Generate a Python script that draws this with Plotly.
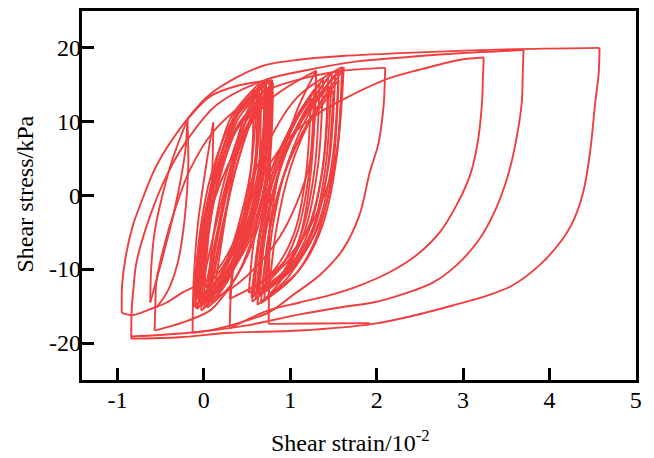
import plotly.graph_objects as go

# ---------------- data (strain in 10^-2, stress in kPa) ----------------
# large envelope loops
load_a_x = [-0.95, -0.945, -0.90, -0.82, -0.74, -0.55, -0.28, 0.05, 0.38, 0.72, 1.10, 1.60, 2.50, 3.50, 4.58]
load_a_y = [-15.9, -12.0, -8.0, -4.0, -1.4, 4.0, 9.0, 13.5, 16.0, 17.7, 18.4, 18.9, 19.4, 19.8, 20.0]
unload_r4_x = [4.58, 4.57, 4.53, 4.47, 4.39, 4.27, 4.12, 3.88, 3.57, 3.27, 2.88, 2.42, 1.96, 1.11, 0.30, -0.28, -0.84]
unload_r4_y = [20.0, 16.5, 12.6, 5.8, 0.4, -3.6, -6.4, -9.5, -12.2, -13.6, -14.9, -16.3, -17.4, -18.3, -18.6, -19.2, -19.4]
load_b_x = [-0.84, -0.835, -0.81, -0.78, -0.62, -0.43, -0.20, 0.15, 0.72, 1.20, 1.80, 2.40, 3.00, 3.70]
load_b_y = [-19.4, -15.5, -12.0, -9.1, -2.7, 2.7, 7.4, 12.3, 15.7, 17.0, 18.2, 18.8, 19.3, 19.7]
unload_r3_x = [3.70, 3.69, 3.68, 3.61, 3.52, 3.38, 3.19, 2.92, 2.65, 2.27, 1.96, 1.61, 1.11, 0.50, 0.00, -0.50, -0.84]
unload_r3_y = [19.7, 16.0, 12.6, 7.2, 2.7, -1.8, -5.9, -9.5, -11.8, -13.5, -14.5, -15.1, -16.1, -17.6, -18.4, -18.9, -19.1]
load_r2_x = [0.30, 0.31, 0.34, 0.45, 0.70, 1.00, 1.35, 1.61, 2.10, 2.48, 2.97, 3.24]
load_r2_y = [-18.0, -14.0, -10.0, -3.5, 3.0, 8.0, 11.3, 13.0, 15.7, 17.0, 18.4, 18.7]
unload_r2_x = [3.24, 3.23, 3.22, 3.17, 3.08, 2.92, 2.73, 2.46, 2.15, 1.80, 1.46, 1.11, 0.74, 0.30]
unload_r2_y = [18.7, 16.0, 12.6, 7.2, 2.7, -1.4, -5.0, -8.1, -10.4, -12.2, -13.5, -14.5, -15.6, -18.0]
load_r1_x = [-0.57, -0.56, -0.55, -0.47, -0.32, -0.16, 0.10, 0.45, 0.80, 1.20, 1.60, 2.10]
load_r1_y = [-18.3, -14.5, -11.8, -7.3, -1.4, 3.5, 8.5, 12.3, 14.6, 16.0, 16.9, 17.3]
unload_r1_x = [2.10, 2.09, 2.08, 2.02, 1.92, 1.80, 1.61, 1.34, 1.03, 0.76, 0.40, 0.10, -0.13]
unload_r1_y = [17.3, 14.0, 12.0, 7.0, 3.1, -2.7, -7.3, -10.8, -13.5, -15.8, -17.3, -18.2, -18.6]

# medium loops on the left side
load_m2_x = [-0.13, -0.125, -0.11, -0.07, 0.00, 0.06, 0.11]
load_m2_y = [-18.6, -14.0, -10.0, -4.0, 2.0, 6.5, 9.9]
unload_m2_x = [0.11, 0.10, 0.07, 0.00, -0.05, -0.24, -0.43, -0.62, -0.82, -0.95]
unload_m2_y = [9.9, 4.0, -3.0, -8.5, -11.8, -13.1, -14.5, -15.4, -16.2, -15.9]
load_m1_x = [-0.62, -0.61, -0.57, -0.48, -0.36, -0.19]
load_m1_y = [-14.5, -10.0, -5.0, 0.0, 5.0, 10.3]
unload_m1_x = [-0.19, -0.21, -0.27, -0.36, -0.48, -0.62]
unload_m1_y = [10.3, 6.5, 2.0, -3.0, -8.5, -14.5]
reload_m1_x = [-0.19, 0.07, 0.40, 0.77]
reload_m1_y = [10.3, 13.4, 14.9, 15.6]
unload_m3_x = [-0.19, -0.18, -0.22, -0.30, -0.42, -0.55]
unload_m3_y = [10.3, 4.0, -3.0, -9.0, -13.0, -15.2]
unload_a_x = [0.78, 0.77, 0.71, 0.58, 0.40, 0.20, 0.07, -0.24, -0.57]
unload_a_y = [15.6, 9.0, 2.0, -5.0, -10.5, -14.0, -15.6, -17.2, -18.3]
drop_x = [0.77, 0.765, 0.75]
drop_y = [15.6, 0.0, -17.4]
base_x = [0.75, 1.30, 1.92]
base_y = [-17.4, -17.35, -17.3]

# dense cycles, cluster A: loading branch and unloading branch per cycle
clu_a_load_x = [
    [-0.10, -0.03, 0.14, 0.43, 0.79], [-0.06, 0.00, 0.15, 0.41, 0.72], [0.00, 0.15, 0.31, 0.52, 0.74],
    [-0.10, -0.04, 0.09, 0.33, 0.62], [0.05, 0.20, 0.37, 0.58, 0.80], [-0.03, 0.03, 0.16, 0.38, 0.66],
    [0.08, 0.22, 0.37, 0.56, 0.76], [-0.06, -0.01, 0.11, 0.32, 0.58], [0.02, 0.16, 0.31, 0.51, 0.72],
    [-0.12, -0.05, 0.13, 0.43, 0.80], [0.10, 0.22, 0.34, 0.51, 0.68], [-0.02, 0.03, 0.16, 0.38, 0.64],
    [0.04, 0.10, 0.24, 0.48, 0.78], [-0.08, -0.01, 0.15, 0.42, 0.76], [0.06, 0.17, 0.30, 0.45, 0.62],
    [-0.04, 0.02, 0.16, 0.40, 0.70], [-0.08, 0.10, 0.29, 0.54, 0.80], [0.00, 0.06, 0.19, 0.42, 0.70],
    [0.03, 0.16, 0.29, 0.47, 0.66], [-0.05, 0.01, 0.16, 0.42, 0.74]]
clu_a_load_y = [
    [-14.8, -5.3, 3.5, 11.7, 15.7], [-13.8, -4.9, 3.5, 11.3, 15.0], [-15.3, -6.2, 2.4, 9.8, 14.2],
    [-12.8, -4.6, 3.0, 10.1, 13.5], [-14.0, -4.9, 3.6, 10.9, 15.3], [-15.6, -6.9, 1.3, 8.9, 12.6],
    [-13.2, -4.5, 3.6, 10.6, 14.8], [-14.3, -5.4, 2.9, 10.7, 14.4], [-12.5, -4.6, 2.8, 9.2, 13.0],
    [-15.0, -6.0, 2.4, 10.2, 14.0], [-14.5, -5.2, 3.4, 10.9, 15.4], [-13.5, -4.6, 3.7, 11.5, 15.2],
    [-15.2, -6.3, 2.1, 9.9, 13.6], [-14.0, -4.8, 3.8, 11.8, 15.7], [-13.0, -4.6, 3.2, 10.0, 14.0],
    [-15.0, -6.3, 1.9, 9.5, 13.2], [-15.4, -6.0, 2.8, 10.4, 15.0], [-14.2, -5.0, 3.6, 11.6, 15.5],
    [-13.6, -5.1, 2.8, 9.7, 13.8], [-14.6, -5.5, 2.9, 10.8, 14.6]]
clu_a_unload_x = [
    [0.79, 0.74, 0.52, 0.21, -0.10], [0.72, 0.67, 0.49, 0.21, -0.06], [0.74, 0.63, 0.43, 0.19, 0.00],
    [0.62, 0.58, 0.40, 0.15, -0.10], [0.80, 0.69, 0.49, 0.24, 0.05], [0.66, 0.62, 0.45, 0.21, -0.03],
    [0.76, 0.66, 0.47, 0.26, 0.08], [0.58, 0.54, 0.39, 0.16, -0.06], [0.72, 0.62, 0.43, 0.20, 0.02],
    [0.80, 0.74, 0.52, 0.20, -0.12], [0.68, 0.59, 0.44, 0.25, 0.10], [0.64, 0.60, 0.44, 0.21, -0.02],
    [0.78, 0.74, 0.56, 0.30, 0.04], [0.76, 0.71, 0.51, 0.21, -0.08], [0.62, 0.54, 0.38, 0.21, 0.06],
    [0.70, 0.66, 0.48, 0.22, -0.04], [0.80, 0.67, 0.43, 0.15, -0.08], [0.70, 0.66, 0.49, 0.25, 0.00],
    [0.66, 0.57, 0.40, 0.19, 0.03], [0.74, 0.69, 0.50, 0.23, -0.05]]
clu_a_unload_y = [
    [15.7, 3.5, -5.7, -11.8, -14.8], [15.0, 3.5, -5.2, -10.9, -13.8], [14.2, 2.4, -6.4, -12.4, -15.3],
    [13.5, 3.0, -4.9, -10.2, -12.8], [15.3, 3.6, -5.2, -11.1, -14.0], [12.6, 1.3, -7.1, -12.8, -15.6],
    [14.8, 3.6, -4.8, -10.4, -13.2], [14.4, 2.9, -5.7, -11.4, -14.3], [13.0, 2.8, -4.9, -10.0, -12.5],
    [14.0, 2.4, -6.3, -12.1, -15.0], [15.4, 3.4, -5.5, -11.5, -14.5], [15.2, 3.7, -4.9, -10.6, -13.5],
    [13.6, 2.1, -6.6, -12.3, -15.2], [15.7, 3.8, -5.1, -11.0, -14.0], [14.0, 3.2, -4.9, -10.3, -13.0],
    [13.2, 1.9, -6.5, -12.2, -15.0], [15.0, 2.8, -6.3, -12.4, -15.4], [15.5, 3.6, -5.3, -11.2, -14.2],
    [13.8, 2.8, -5.4, -10.9, -13.6], [14.6, 2.9, -5.8, -11.7, -14.6]]

# dense cycles, cluster B
clu_b_load_x = [
    [0.55, 0.66, 0.87, 1.21, 1.62], [0.62, 0.71, 0.89, 1.18, 1.52], [0.70, 0.76, 0.88, 1.07, 1.30],
    [0.58, 0.67, 0.84, 1.12, 1.45], [0.66, 0.75, 0.93, 1.22, 1.56], [0.52, 0.59, 0.74, 0.97, 1.24],
    [0.75, 0.84, 1.01, 1.28, 1.60], [0.60, 0.68, 0.83, 1.08, 1.38], [0.68, 0.76, 0.93, 1.19, 1.50],
    [0.64, 0.72, 0.88, 1.14, 1.44], [0.56, 0.64, 0.79, 1.04, 1.34], [0.72, 0.80, 0.97, 1.24, 1.56],
    [0.62, 0.71, 0.88, 1.15, 1.48], [0.58, 0.65, 0.79, 1.01, 1.28],
    [-0.10, 0.01, 0.28, 0.74, 1.30], [0.30, 0.40, 0.65, 1.08, 1.60]]
clu_b_load_y = [
    [-13.8, -4.4, 4.3, 11.8, 17.4], [-13.0, -4.2, 4.0, 11.0, 16.3], [-14.2, -4.9, 3.8, 11.3, 16.9],
    [-12.5, -4.3, 3.3, 9.9, 14.8], [-14.6, -5.5, 2.9, 10.2, 15.6], [-13.2, -5.3, 2.1, 8.4, 13.2],
    [-13.6, -4.5, 4.0, 11.3, 16.8], [-14.0, -5.1, 3.3, 10.4, 15.8], [-12.8, -4.7, 2.9, 9.3, 14.2],
    [-13.4, -4.6, 3.7, 10.7, 16.0], [-14.4, -5.5, 2.8, 9.9, 15.2], [-13.0, -4.0, 4.4, 11.6, 17.0],
    [-14.8, -5.4, 3.4, 11.0, 16.6], [-13.4, -5.1, 2.7, 9.4, 14.4],
    [-15.2, -5.2, 4.1, 12.7, 16.9], [-14.0, -4.3, 4.8, 13.3, 17.4]]
clu_b_unload_x = [
    [1.62, 1.53, 1.32, 1.00, 0.55], [1.52, 1.45, 1.27, 1.00, 0.62], [1.30, 1.25, 1.13, 0.95, 0.70],
    [1.45, 1.38, 1.21, 0.95, 0.58], [1.56, 1.49, 1.31, 1.04, 0.66], [1.24, 1.18, 1.04, 0.82, 0.52],
    [1.60, 1.53, 1.36, 1.11, 0.75], [1.38, 1.32, 1.16, 0.93, 0.60], [1.50, 1.43, 1.27, 1.02, 0.68],
    [1.44, 1.38, 1.22, 0.98, 0.64], [1.34, 1.28, 1.12, 0.89, 0.56], [1.56, 1.49, 1.32, 1.07, 0.72],
    [1.48, 1.41, 1.24, 0.98, 0.62], [1.28, 1.22, 1.08, 0.87, 0.58],
    [1.30, 1.22, 0.88, 0.39, -0.10], [1.60, 1.52, 1.21, 0.76, 0.30]]
clu_b_unload_y = [
    [17.4, 4.9, -4.4, -10.1, -13.8], [16.3, 4.6, -4.2, -9.5, -13.0], [16.9, 4.5, -4.9, -10.5, -14.2],
    [14.8, 3.9, -4.3, -9.2, -12.5], [15.6, 3.5, -5.5, -11.0, -14.6], [13.2, 2.6, -5.3, -10.0, -13.2],
    [16.8, 4.6, -4.5, -10.0, -13.6], [15.8, 3.9, -5.1, -10.4, -14.0], [14.2, 3.4, -4.7, -9.6, -12.8],
    [16.0, 4.2, -4.6, -9.9, -13.4], [15.2, 3.4, -5.5, -10.8, -14.4], [17.0, 5.0, -4.0, -9.4, -13.0],
    [16.6, 4.0, -5.4, -11.0, -14.8], [14.4, 3.3, -5.1, -10.1, -13.4],
    [16.9, 4.1, -5.6, -12.0, -15.2], [17.4, 4.8, -4.6, -10.9, -14.0]]

x_ticks = [-1, 0, 1, 2, 3, 4, 5]
y_ticks = [-20, -10, 0, 10, 20]
x_title = "Shear strain/10<sup>-2</sup>"
y_title = "Shear stress/kPa"

# ---------------- assemble branches ----------------
branches = [
    (load_a_x, load_a_y), (unload_r4_x, unload_r4_y), (load_b_x, load_b_y),
    (unload_r3_x, unload_r3_y), (load_r2_x, load_r2_y), (unload_r2_x, unload_r2_y),
    (load_r1_x, load_r1_y), (unload_r1_x, unload_r1_y), (load_m2_x, load_m2_y),
    (unload_m2_x, unload_m2_y), (load_m1_x, load_m1_y), (unload_m1_x, unload_m1_y),
    (reload_m1_x, reload_m1_y), (unload_m3_x, unload_m3_y), (unload_a_x, unload_a_y),
    (drop_x, drop_y), (base_x, base_y),
]
for lx, ly, ux, uy in zip(clu_a_load_x, clu_a_load_y, clu_a_unload_x, clu_a_unload_y):
    branches.append((lx, ly))
    branches.append((ux, uy))
for lx, ly, ux, uy in zip(clu_b_load_x, clu_b_load_y, clu_b_unload_x, clu_b_unload_y):
    branches.append((lx, ly))
    branches.append((ux, uy))

xs, ys = [], []
for bx, by in branches:
    xs += list(bx) + [None]
    ys += list(by) + [None]

RED = "rgb(240,62,62)"
FONT = "Liberation Serif"

fig = go.Figure()
fig.add_trace(go.Scatter(
    x=xs, y=ys, mode="lines", connectgaps=False,
    line=dict(color=RED, width=1.9, shape="spline", smoothing=0.9),
    showlegend=False, hoverinfo="skip",
))

axis_common = dict(
    showline=True, linecolor="black", linewidth=2.5, mirror=True,
    ticks="inside", ticklen=12, tickwidth=2.5, tickcolor="black",
    showgrid=False, zeroline=False,
    tickfont=dict(family=FONT, size=24, color="black"),
)
fig.update_layout(
    width=654, height=458,
    margin=dict(l=82, r=18, t=8, b=78),
    paper_bgcolor="white", plot_bgcolor="white",
    font=dict(family=FONT, color="black"),
    xaxis=dict(range=[-1.41, 5.002], tickvals=x_ticks, ticktext=[str(v) for v in x_ticks],
               ticklabelstandoff=-4, **axis_common),
    yaxis=dict(range=[-25, 25], tickvals=y_ticks, showticklabels=False, **axis_common),
)

# y tick labels placed tight against the frame, as in the reference
for v in y_ticks:
    fig.add_annotation(x=0, xref="paper", y=v, yref="y", text=str(v), showarrow=False,
                       xanchor="right", yanchor="middle", xshift=1,
                       font=dict(family=FONT, size=24, color="black"))
# axis titles
fig.add_annotation(x=(350 - 82) / 554, xref="paper", y=-(441 - 380) / 372, yref="paper",
                   text=x_title, showarrow=False, xanchor="center", yanchor="middle",
                   font=dict(family=FONT, size=24, color="black"))
fig.add_annotation(x=(25 - 82) / 554, xref="paper", y=(380 - 193) / 372, yref="paper",
                   text=y_title, showarrow=False, textangle=-90, xanchor="center", yanchor="middle",
                   font=dict(family=FONT, size=24, color="black"))

fig.write_html("out.html")
